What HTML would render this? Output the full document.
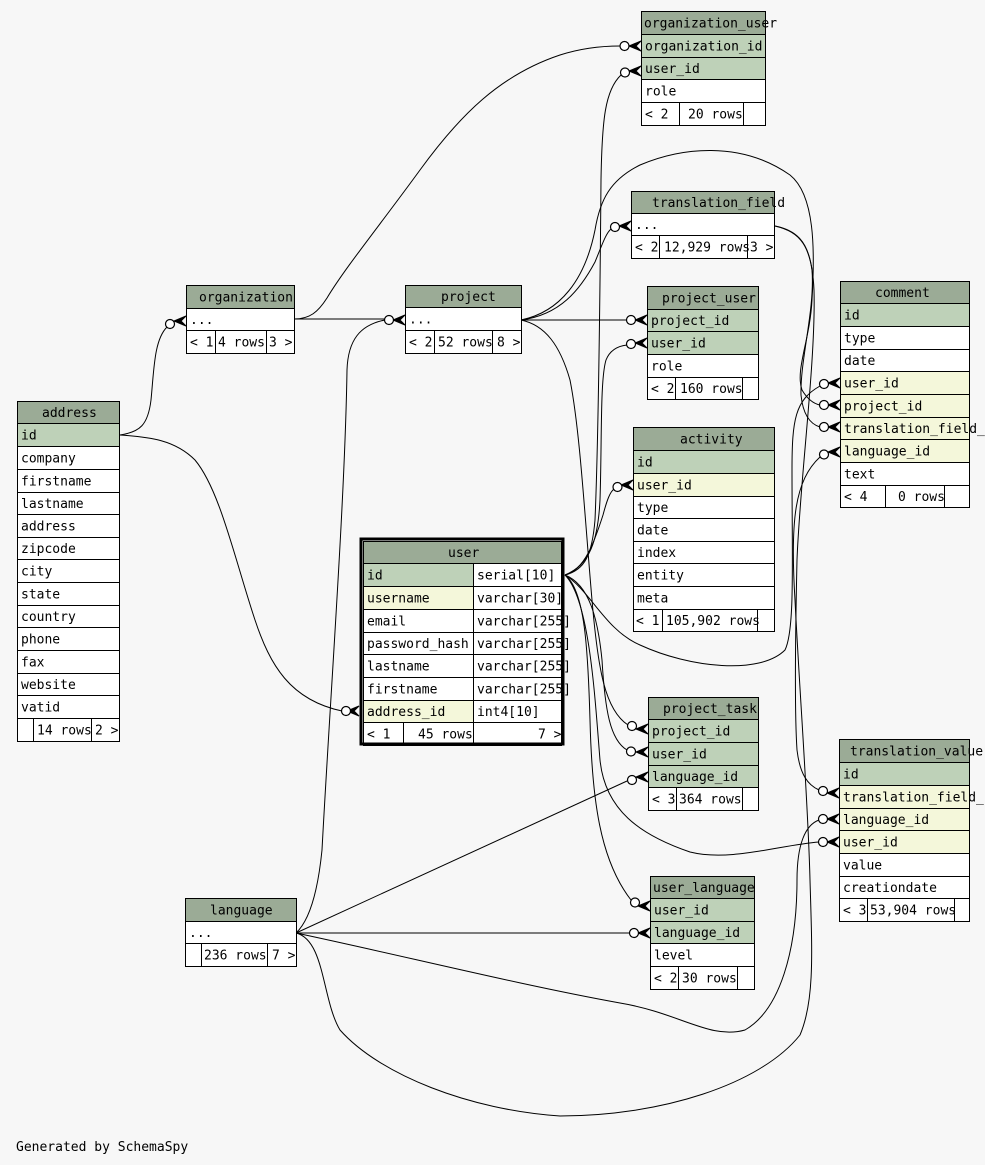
<!DOCTYPE html>
<html><head><meta charset="utf-8"><style>
html,body{margin:0;padding:0;background:#f7f7f7;}
svg{display:block;}
.e{fill:none;stroke:#000;stroke-width:1;}
rect{stroke:#000;stroke-width:1;}
.h{fill:#9bab96}.pk{fill:#bed1b8}.fk{fill:#f4f7da}.w{fill:#fff}
text{font-family:"DejaVu Sans Mono","Liberation Mono",monospace;font-size:13px;fill:#000;}
.c{fill:#fff;stroke:#000;stroke-width:1.2;}
.cr{fill:#000;stroke:#000;stroke-width:1;}
</style></head><body>
<svg width="985" height="1165" viewBox="0 0 985 1165" xmlns="http://www.w3.org/2000/svg">
<rect x="0" y="0" width="985" height="1165" style="fill:#f7f7f7;stroke:none"/>
<!-- edges -->
<path class="e" d="M294,319 C310,319 318,312 327,298 C345,268 380,225 420,170 C460,115 500,75 560,55 C585,47 605,46 620,46"/>
<path class="e" d="M294,319 L385,319"/>
<path class="e" d="M120,435 C140,432 148,425 151,400 C154,370 154,340 167,327"/>
<path class="e" d="M120,435 C150,437 175,440 195,460 C220,490 235,560 255,620 C270,665 290,700 342,711"/>
<path class="e" d="M565,575 C585,570 592,555 595,520 C598,450 600,300 601,180 C602,120 605,90 621,75"/>
<path class="e" d="M565,575 C590,565 598,540 600,500 C602,440 600,380 606,360 C610,350 618,346 627,345"/>
<path class="e" d="M565,575 C585,570 595,540 603,515 C607,500 610,492 614,489"/>
<path class="e" d="M565,575 C590,590 605,630 640,645 C690,668 760,675 785,650 C795,630 792,560 792,470 C792,420 795,400 820,386"/>
<path class="e" d="M565,575 C590,585 598,620 602,660 C605,710 610,740 627,750"/>
<path class="e" d="M565,575 C585,590 588,650 590,720 C592,800 600,860 631,900"/>
<path class="e" d="M565,575 C590,600 595,700 600,760 C605,810 640,835 690,852 C730,862 780,845 819,842"/>
<path class="e" d="M521,320 C560,315 580,290 595,262 C602,245 606,233 611,229"/>
<path class="e" d="M521,320 L627,320"/>
<path class="e" d="M521,320 C545,325 560,345 570,380 C580,430 585,520 592,600 C598,670 605,710 628,725"/>
<path class="e" d="M521,320 C560,312 585,280 595,230 C600,200 610,180 640,165 C680,148 740,140 790,175 C815,195 815,250 812,300 C810,340 795,370 802,390 C808,400 815,404 820,405"/>
<path class="e" d="M775,226 C795,230 808,240 812,270 C815,310 800,360 801,395 C803,415 810,424 820,427"/>
<path class="e" d="M775,226 C800,232 812,245 814,290 C816,360 800,480 797,560 C795,650 795,720 797,750 C800,775 808,785 819,790"/>
<path class="e" d="M296,933 C310,920 318,890 322,850 C330,700 345,500 347,370 C348,340 360,325 385,320"/>
<path class="e" d="M296,933 L627,781"/>
<path class="e" d="M296,933 L630,933"/>
<path class="e" d="M296,933 C400,955 520,985 620,1003 C680,1013 710,1040 745,1030 C780,1010 797,950 797,880 C797,845 805,825 819,820"/>
<path class="e" d="M296,933 C325,940 322,1000 340,1030 C380,1075 470,1110 560,1116 C660,1116 760,1085 800,1035 C815,1000 812,950 810,880 C808,800 800,700 795,600 C790,520 795,480 820,457"/>

<!-- organization_user -->
<rect class="h" x="641.5" y="11.5" width="124" height="23"/>
<rect class="pk" x="641.5" y="34.5" width="124" height="23"/>
<rect class="pk" x="641.5" y="57.5" width="124" height="22"/>
<rect class="w" x="641.5" y="79.5" width="124" height="23"/>
<rect class="w" x="641.5" y="102.5" width="38" height="23"/>
<rect class="w" x="679.5" y="102.5" width="64" height="23"/>
<rect class="w" x="743.5" y="102.5" width="22" height="23"/>
<text x="644" y="27.5">organization_user</text>
<text x="645" y="50.5">organization_id</text>
<text x="645" y="73">user_id</text>
<text x="645" y="95.5">role</text>
<text x="645" y="118.5">&lt; 2</text>
<text x="688" y="118.5">20 rows</text>

<!-- translation_field -->
<rect class="h" x="631.5" y="191.5" width="143" height="22"/>
<rect class="w" x="631.5" y="213.5" width="143" height="22"/>
<rect class="w" x="631.5" y="235.5" width="28" height="23"/>
<rect class="w" x="659.5" y="235.5" width="88" height="23"/>
<rect class="w" x="747.5" y="235.5" width="27" height="23"/>
<text x="652" y="207">translation_field</text>
<text x="635" y="229">...</text>
<text x="635" y="251.5">&lt; 2</text>
<text x="664" y="251.5">12,929 rows</text>
<text x="750" y="251.5">3 &gt;</text>

<!-- organization -->
<rect class="h" x="186.5" y="285.5" width="108" height="23"/>
<rect class="w" x="186.5" y="308.5" width="108" height="22"/>
<rect class="w" x="186.5" y="330.5" width="29" height="23"/>
<rect class="w" x="215.5" y="330.5" width="51" height="23"/>
<rect class="w" x="266.5" y="330.5" width="28" height="23"/>
<text x="199" y="301.5">organization</text>
<text x="190" y="324">...</text>
<text x="190" y="346.5">&lt; 1</text>
<text x="218" y="346.5">4 rows</text>
<text x="269" y="346.5">3 &gt;</text>

<!-- project -->
<rect class="h" x="405.5" y="285.5" width="116" height="22"/>
<rect class="w" x="405.5" y="307.5" width="116" height="23"/>
<rect class="w" x="405.5" y="330.5" width="29" height="23"/>
<rect class="w" x="434.5" y="330.5" width="58" height="23"/>
<rect class="w" x="492.5" y="330.5" width="29" height="23"/>
<text x="441" y="301">project</text>
<text x="409" y="323.5">...</text>
<text x="409" y="346.5">&lt; 2</text>
<text x="438" y="346.5">52 rows</text>
<text x="497" y="346.5">8 &gt;</text>

<!-- address -->
<rect class="h" x="17.5" y="401.5" width="102" height="22"/>
<rect class="pk" x="17.5" y="423.5" width="102" height="23"/>
<rect class="w" x="17.5" y="446.5" width="102" height="23"/>
<rect class="w" x="17.5" y="469.5" width="102" height="23"/>
<rect class="w" x="17.5" y="492.5" width="102" height="22"/>
<rect class="w" x="17.5" y="514.5" width="102" height="23"/>
<rect class="w" x="17.5" y="537.5" width="102" height="22"/>
<rect class="w" x="17.5" y="559.5" width="102" height="23"/>
<rect class="w" x="17.5" y="582.5" width="102" height="23"/>
<rect class="w" x="17.5" y="605.5" width="102" height="22"/>
<rect class="w" x="17.5" y="627.5" width="102" height="23"/>
<rect class="w" x="17.5" y="650.5" width="102" height="23"/>
<rect class="w" x="17.5" y="673.5" width="102" height="22"/>
<rect class="w" x="17.5" y="695.5" width="102" height="23"/>
<rect class="w" x="17.5" y="718.5" width="16" height="23"/>
<rect class="w" x="33.5" y="718.5" width="58" height="23"/>
<rect class="w" x="91.5" y="718.5" width="28" height="23"/>
<text x="42" y="417">address</text>
<text x="21" y="439.5">id</text>
<text x="21" y="462.5">company</text>
<text x="21" y="485.5">firstname</text>
<text x="21" y="508">lastname</text>
<text x="21" y="530.5">address</text>
<text x="21" y="553">zipcode</text>
<text x="21" y="575.5">city</text>
<text x="21" y="598.5">state</text>
<text x="21" y="621">country</text>
<text x="21" y="643.5">phone</text>
<text x="21" y="666.5">fax</text>
<text x="21" y="689">website</text>
<text x="21" y="711.5">vatid</text>
<text x="37" y="734.5">14 rows</text>
<text x="95" y="734.5">2 &gt;</text>

<!-- user -->
<rect class="h" x="363.5" y="541.5" width="198" height="22"/>
<rect class="pk" x="363.5" y="563.5" width="110" height="23"/>
<rect class="w" x="473.5" y="563.5" width="88" height="23"/>
<rect class="fk" x="363.5" y="586.5" width="110" height="23"/>
<rect class="w" x="473.5" y="586.5" width="88" height="23"/>
<rect class="w" x="363.5" y="609.5" width="110" height="23"/>
<rect class="w" x="473.5" y="609.5" width="88" height="23"/>
<rect class="w" x="363.5" y="632.5" width="110" height="22"/>
<rect class="w" x="473.5" y="632.5" width="88" height="22"/>
<rect class="w" x="363.5" y="654.5" width="110" height="23"/>
<rect class="w" x="473.5" y="654.5" width="88" height="23"/>
<rect class="w" x="363.5" y="677.5" width="110" height="23"/>
<rect class="w" x="473.5" y="677.5" width="88" height="23"/>
<rect class="fk" x="363.5" y="700.5" width="110" height="22"/>
<rect class="w" x="473.5" y="700.5" width="88" height="22"/>
<rect class="w" x="363.5" y="722.5" width="40" height="23"/>
<rect class="w" x="403.5" y="722.5" width="70" height="23"/>
<rect class="w" x="473.5" y="722.5" width="88" height="23"/>
<text x="448" y="557">user</text>
<text x="367" y="579.5">id</text><text x="477" y="579.5">serial[10]</text>
<text x="367" y="602.5">username</text><text x="477" y="602.5">varchar[30]</text>
<text x="367" y="625.5">email</text><text x="477" y="625.5">varchar[255]</text>
<text x="367" y="648">password_hash</text><text x="477" y="648">varchar[255]</text>
<text x="367" y="670.5">lastname</text><text x="477" y="670.5">varchar[255]</text>
<text x="367" y="693.5">firstname</text><text x="477" y="693.5">varchar[255]</text>
<text x="367" y="716">address_id</text><text x="477" y="716">int4[10]</text>
<text x="367" y="738.5">&lt; 1</text>
<text x="418" y="738.5">45 rows</text>
<text x="538" y="738.5">7 &gt;</text>
<rect x="361" y="539" width="202" height="205" style="fill:none;stroke:#000;stroke-width:3"/>

<!-- language -->
<rect class="h" x="185.5" y="898.5" width="111" height="23"/>
<rect class="w" x="185.5" y="921.5" width="111" height="22"/>
<rect class="w" x="185.5" y="943.5" width="16" height="23"/>
<rect class="w" x="201.5" y="943.5" width="66" height="23"/>
<rect class="w" x="267.5" y="943.5" width="29" height="23"/>
<text x="210" y="914.5">language</text>
<text x="189" y="937">...</text>
<text x="204" y="959.5">236 rows</text>
<text x="272" y="959.5">7 &gt;</text>

<!-- project_user -->
<rect class="h" x="647.5" y="286.5" width="111" height="23"/>
<rect class="pk" x="647.5" y="309.5" width="111" height="22"/>
<rect class="pk" x="647.5" y="331.5" width="111" height="23"/>
<rect class="w" x="647.5" y="354.5" width="111" height="23"/>
<rect class="w" x="647.5" y="377.5" width="28" height="22"/>
<rect class="w" x="675.5" y="377.5" width="67" height="22"/>
<rect class="w" x="742.5" y="377.5" width="16" height="22"/>
<text x="662" y="302.5">project_user</text>
<text x="651" y="325">project_id</text>
<text x="651" y="347.5">user_id</text>
<text x="651" y="370.5">role</text>
<text x="651" y="393">&lt; 2</text>
<text x="680" y="393">160 rows</text>

<!-- activity -->
<rect class="h" x="633.5" y="427.5" width="141" height="23"/>
<rect class="pk" x="633.5" y="450.5" width="141" height="23"/>
<rect class="fk" x="633.5" y="473.5" width="141" height="23"/>
<rect class="w" x="633.5" y="496.5" width="141" height="22"/>
<rect class="w" x="633.5" y="518.5" width="141" height="23"/>
<rect class="w" x="633.5" y="541.5" width="141" height="22"/>
<rect class="w" x="633.5" y="563.5" width="141" height="23"/>
<rect class="w" x="633.5" y="586.5" width="141" height="23"/>
<rect class="w" x="633.5" y="609.5" width="29" height="22"/>
<rect class="w" x="662.5" y="609.5" width="95" height="22"/>
<rect class="w" x="757.5" y="609.5" width="17" height="22"/>
<text x="680" y="443.5">activity</text>
<text x="637" y="466.5">id</text>
<text x="637" y="489.5">user_id</text>
<text x="637" y="512">type</text>
<text x="637" y="534.5">date</text>
<text x="637" y="557">index</text>
<text x="637" y="579.5">entity</text>
<text x="637" y="602.5">meta</text>
<text x="636" y="625">&lt; 1</text>
<text x="666" y="625">105,902 rows</text>

<!-- comment -->
<rect class="h" x="840.5" y="281.5" width="129" height="22"/>
<rect class="pk" x="840.5" y="303.5" width="129" height="23"/>
<rect class="w" x="840.5" y="326.5" width="129" height="23"/>
<rect class="w" x="840.5" y="349.5" width="129" height="22"/>
<rect class="fk" x="840.5" y="371.5" width="129" height="23"/>
<rect class="fk" x="840.5" y="394.5" width="129" height="23"/>
<rect class="fk" x="840.5" y="417.5" width="129" height="22"/>
<rect class="fk" x="840.5" y="439.5" width="129" height="23"/>
<rect class="w" x="840.5" y="462.5" width="129" height="23"/>
<rect class="w" x="840.5" y="485.5" width="45" height="22"/>
<rect class="w" x="885.5" y="485.5" width="59" height="22"/>
<rect class="w" x="944.5" y="485.5" width="25" height="22"/>
<text x="875" y="297">comment</text>
<text x="844" y="319.5">id</text>
<text x="844" y="342.5">type</text>
<text x="844" y="365">date</text>
<text x="844" y="387.5">user_id</text>
<text x="844" y="410.5">project_id</text>
<text x="844" y="433">translation_field_id</text>
<text x="844" y="455.5">language_id</text>
<text x="844" y="478.5">text</text>
<text x="844" y="501">&lt; 4</text>
<text x="898" y="501">0 rows</text>

<!-- project_task -->
<rect class="h" x="648.5" y="697.5" width="110" height="22"/>
<rect class="pk" x="648.5" y="719.5" width="110" height="23"/>
<rect class="pk" x="648.5" y="742.5" width="110" height="23"/>
<rect class="pk" x="648.5" y="765.5" width="110" height="22"/>
<rect class="w" x="648.5" y="787.5" width="28" height="23"/>
<rect class="w" x="676.5" y="787.5" width="66" height="23"/>
<rect class="w" x="742.5" y="787.5" width="16" height="23"/>
<text x="663" y="713">project_task</text>
<text x="652" y="735.5">project_id</text>
<text x="652" y="758.5">user_id</text>
<text x="652" y="781">language_id</text>
<text x="652" y="803.5">&lt; 3</text>
<text x="679" y="803.5">364 rows</text>

<!-- user_language -->
<rect class="h" x="650.5" y="876.5" width="104" height="22"/>
<rect class="pk" x="650.5" y="898.5" width="104" height="23"/>
<rect class="pk" x="650.5" y="921.5" width="104" height="22"/>
<rect class="w" x="650.5" y="943.5" width="104" height="23"/>
<rect class="w" x="650.5" y="966.5" width="28" height="23"/>
<rect class="w" x="678.5" y="966.5" width="59" height="23"/>
<rect class="w" x="737.5" y="966.5" width="17" height="23"/>
<text x="653" y="892">user_language</text>
<text x="654" y="914.5">user_id</text>
<text x="654" y="937">language_id</text>
<text x="654" y="959.5">level</text>
<text x="654" y="982.5">&lt; 2</text>
<text x="682" y="982.5">30 rows</text>

<!-- translation_value -->
<rect class="h" x="839.5" y="739.5" width="130" height="23"/>
<rect class="pk" x="839.5" y="762.5" width="130" height="23"/>
<rect class="fk" x="839.5" y="785.5" width="130" height="23"/>
<rect class="fk" x="839.5" y="808.5" width="130" height="22"/>
<rect class="fk" x="839.5" y="830.5" width="130" height="23"/>
<rect class="w" x="839.5" y="853.5" width="130" height="23"/>
<rect class="w" x="839.5" y="876.5" width="130" height="22"/>
<rect class="w" x="839.5" y="898.5" width="28" height="23"/>
<rect class="w" x="867.5" y="898.5" width="87" height="23"/>
<rect class="w" x="954.5" y="898.5" width="15" height="23"/>
<text x="850" y="755.5">translation_value</text>
<text x="843" y="778.5">id</text>
<text x="843" y="801.5">translation_field_id</text>
<text x="843" y="824">language_id</text>
<text x="843" y="846.5">user_id</text>
<text x="843" y="869.5">value</text>
<text x="843" y="892">creationdate</text>
<text x="843" y="914.5">&lt; 3</text>
<text x="870" y="914.5">53,904 rows</text>

<!-- markers: crow + circle -->
<g>
<path class="cr" d="M641,41 L629,46 L641,51 L636,46 Z"/><circle class="c" cx="624.5" cy="46" r="4.5"/>
<path class="cr" d="M641,66 L629,71 L641,76 L636,71 Z"/><circle class="c" cx="625" cy="72.5" r="4.5"/>
<path class="cr" d="M186,316 L174,321 L186,326 L181,321 Z"/><circle class="c" cx="170" cy="324" r="4.5"/>
<path class="cr" d="M405,315 L393,320 L405,325 L400,320 Z"/><circle class="c" cx="389" cy="320" r="4.5"/>
<path class="cr" d="M631,221 L619,226 L631,231 L626,226 Z"/><circle class="c" cx="615" cy="227" r="4.5"/>
<path class="cr" d="M647,315 L635,320 L647,325 L642,320 Z"/><circle class="c" cx="631" cy="320" r="4.5"/>
<path class="cr" d="M647,338 L635,343 L647,348 L642,343 Z"/><circle class="c" cx="631" cy="344" r="4.5"/>
<path class="cr" d="M633,480 L621,485 L633,490 L628,485 Z"/><circle class="c" cx="617.5" cy="487" r="4.5"/>
<path class="cr" d="M840,378 L828,383 L840,388 L835,383 Z"/><circle class="c" cx="824" cy="384" r="4.5"/>
<path class="cr" d="M840,400 L828,405 L840,410 L835,405 Z"/><circle class="c" cx="824" cy="405" r="4.5"/>
<path class="cr" d="M840,422 L828,427 L840,432 L835,427 Z"/><circle class="c" cx="824" cy="427" r="4.5"/>
<path class="cr" d="M840,447 L828,452 L840,457 L835,452 Z"/><circle class="c" cx="824" cy="454.5" r="4.5"/>
<path class="cr" d="M359,706 L347,711 L359,716 L354,711 Z"/><circle class="c" cx="346" cy="711" r="4.5"/>
<path class="cr" d="M648,724 L636,729 L648,734 L643,729 Z"/><circle class="c" cx="632" cy="726" r="4.5"/>
<path class="cr" d="M648,747 L636,752 L648,757 L643,752 Z"/><circle class="c" cx="631" cy="751.5" r="4.5"/>
<path class="cr" d="M648,772 L636,777 L648,782 L643,777 Z"/><circle class="c" cx="632" cy="780" r="4.5"/>
<path class="cr" d="M650,901 L638,906 L650,911 L645,906 Z"/><circle class="c" cx="635" cy="902.5" r="4.5"/>
<path class="cr" d="M650,928 L638,933 L650,938 L645,933 Z"/><circle class="c" cx="634" cy="933" r="4.5"/>
<path class="cr" d="M839,788 L827,793 L839,798 L834,793 Z"/><circle class="c" cx="823" cy="791" r="4.5"/>
<path class="cr" d="M839,814 L827,819 L839,824 L834,819 Z"/><circle class="c" cx="823" cy="819" r="4.5"/>
<path class="cr" d="M839,837 L827,842 L839,847 L834,842 Z"/><circle class="c" cx="823" cy="842" r="4.5"/>
</g>

<text x="16" y="1151">Generated by SchemaSpy</text>
</svg>
</body></html>
